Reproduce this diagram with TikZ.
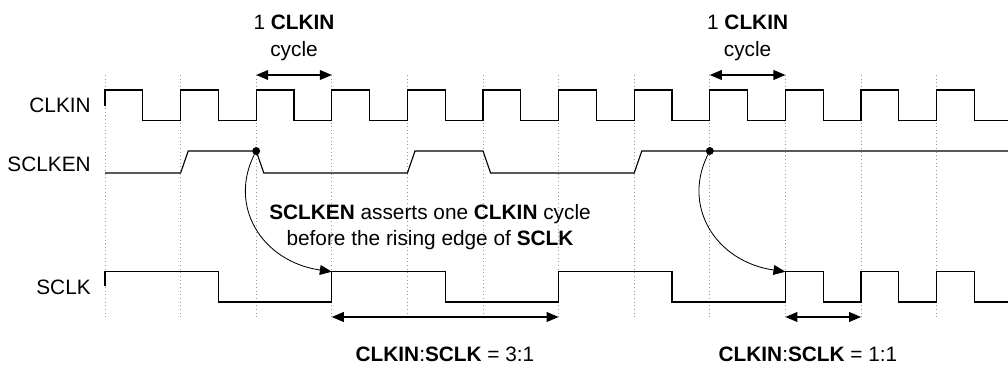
\documentclass[tikz,border=0pt]{standalone}
\usepackage{fontspec}
\setmainfont{Liberation Sans}
\usetikzlibrary{arrows.meta,positioning,calc}

\begin{document}
\begin{tikzpicture}[x=0.025cm,y=-0.025cm,
    wave/.style={line width=0.8pt},
    gridline/.style={gray!80,dotted,line width=0.6pt},
    span/.style={{Triangle[length=8.5pt,width=7pt]}-{Triangle[length=8.5pt,width=7pt]},line width=0.8pt},
    cause/.style={-{Triangle[length=8.5pt,width=7pt]},line width=0.6pt},
    lbl/.style={font=\fontsize{14.8}{19}\selectfont,inner sep=0pt,align=center}]
    \useasboundingbox (0,0) rectangle (1008,365);
    \def\per{75.6}
    % Grid on the rising edges of CLKIN
    \foreach \k in {0,...,11} {
        \coordinate (t\k) at (105+\k*\per,75);
        \coordinate (b\k) at (105+\k*\per,317);
        \draw[gridline] (t\k) -- (b\k);
    }
    % Signal names
    \node[lbl,anchor=east] (clkin) at (91,105) {CLKIN};
    \node[lbl,anchor=east] (sclken) at (91,164) {SCLKEN};
    \node[lbl,anchor=east] (sclk) at (91,287) {SCLK};
    % Waveforms
    \draw[wave] (105,106) -- (105,90)
        \foreach \k in {0,...,10} { -- ++(37.8,0) -- ++(0,30.7) -- ++(37.8,0) -- ++(0,-30.7) }
        -- ++(37.8,0) -- ++(0,30.7) -- (1008,120.7);
    \draw[wave] (105,173) -- (180.6,173) -- (188.2,151) -- (256.2,151) -- (263.8,173)
        -- (407.4,173) -- (415,151) -- (483,151) -- (490.6,173)
        -- (634.2,173) -- (641.8,151) -- (1008,151);
    \draw[wave] (105,286) -- (105,271.7) -- (218.4,271.7) -- (218.4,302) -- (331.8,302)
        -- (331.8,271.7) -- (445.2,271.7) -- (445.2,302) -- (558.6,302)
        -- (558.6,271.7) -- (672,271.7) -- (672,302) -- (785.4,302)
        -- (785.4,271.7) -- (823.2,271.7) -- (823.2,302) -- (861,302)
        -- (861,271.7) -- (898.8,271.7) -- (898.8,302) -- (936.6,302)
        -- (936.6,271.7) -- (974.4,271.7) -- (974.4,302) -- (1008,302);
    % SCLKEN to SCLK
    \coordinate (en1) at (256.2,151);
    \coordinate (en2) at (709.8,151);
    \coordinate (sr1) at (331.8,271.7);
    \coordinate (sr2) at (785.4,271.7);
    \foreach \i in {1,2} {
        \fill (en\i) circle (2.8pt);
        \draw[cause] (en\i) .. controls +(-30,54) and +(-70,-10) .. (sr\i);
    }
    % Spans
    \draw[span] (t2) -- (t3);
    \draw[span] (t8) -- (t9);
    \draw[span] (b3) -- (b6);
    \draw[span] (b9) -- (b10);
    % Labels
    \node[lbl] (cyc1) at (294,38) {1 \textbf{CLKIN}\\cycle};
    \node[lbl] (cyc2) at (747.6,38) {1 \textbf{CLKIN}\\cycle};
    \node[lbl] (note) at (430,227) {\textbf{SCLKEN} asserts one \textbf{CLKIN} cycle\\before the rising edge of \textbf{SCLK}};
    \node[lbl] (ratio1) at (445,354) {\textbf{CLKIN}:\textbf{SCLK} = 3:1};
    \node[lbl] (ratio2) at (808,354) {\textbf{CLKIN}:\textbf{SCLK} = 1:1};
\end{tikzpicture}
\end{document}
